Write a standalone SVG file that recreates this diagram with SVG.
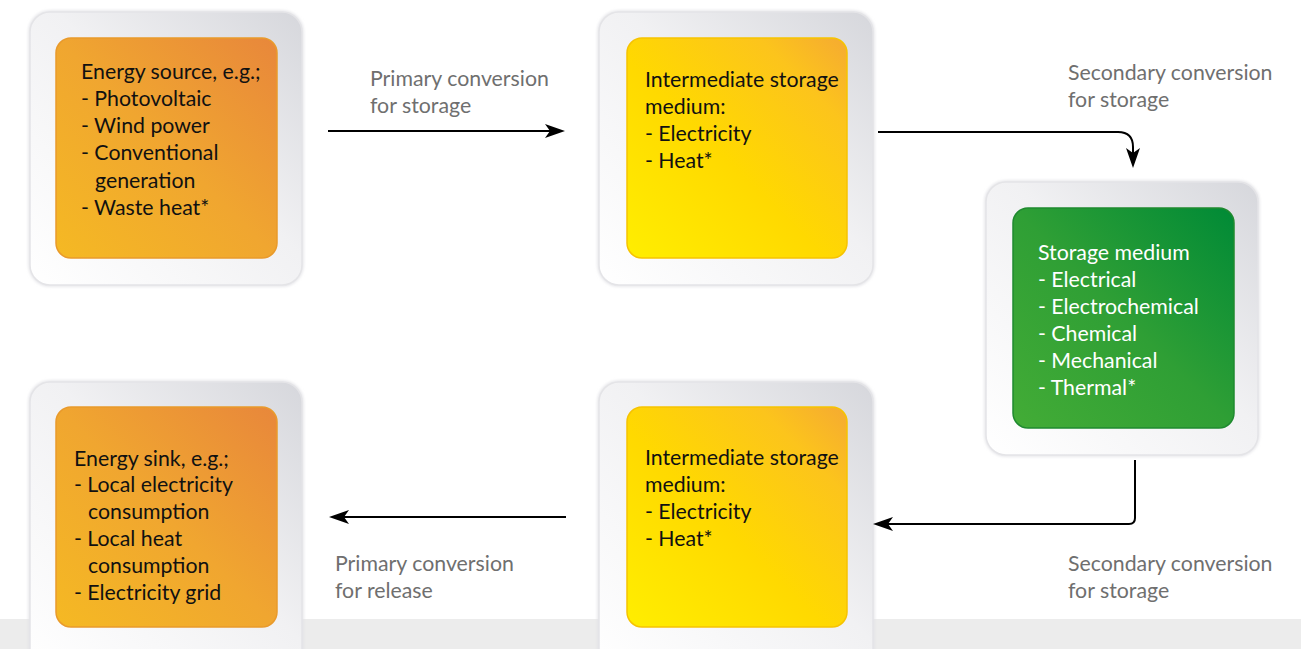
<svg xmlns="http://www.w3.org/2000/svg" width="1301" height="649" viewBox="0 0 1301 649">
  <defs>
    <linearGradient id="gFrame" x1="0" y1="1" x2="1" y2="0">
      <stop offset="0" stop-color="#ffffff"/>
      <stop offset="0.55" stop-color="#f1f1f3"/>
      <stop offset="1" stop-color="#d6d7dc"/>
    </linearGradient>
    <linearGradient id="gOrange" x1="0" y1="1" x2="1" y2="0">
      <stop offset="0" stop-color="#f5b923"/>
      <stop offset="0.5" stop-color="#f0a630"/>
      <stop offset="1" stop-color="#e8873b"/>
    </linearGradient>
    <linearGradient id="gYellow" x1="0" y1="1" x2="1" y2="0">
      <stop offset="0" stop-color="#ffee00"/>
      <stop offset="0.45" stop-color="#ffd900"/>
      <stop offset="0.8" stop-color="#fcc41c"/>
      <stop offset="1" stop-color="#f5aa32"/>
    </linearGradient>
    <linearGradient id="gGreen" x1="0" y1="1" x2="1" y2="0">
      <stop offset="0" stop-color="#43ac36"/>
      <stop offset="0.5" stop-color="#2f9f35"/>
      <stop offset="1" stop-color="#008a36"/>
    </linearGradient>
    <filter id="soft" x="-10%" y="-10%" width="120%" height="120%">
      <feGaussianBlur stdDeviation="1.5"/>
    </filter>
    <marker id="arrow" viewBox="0 0 20 14" refX="15" refY="7" markerWidth="20" markerHeight="14" markerUnits="userSpaceOnUse" orient="auto">
      <path d="M0,0 L20,7 L0,14 L5,7 Z" fill="#000"/>
    </marker>
  </defs>
  <style>
    .frame { fill: url(#gFrame); stroke: #e4e4e7; stroke-width: 1.5; }
    .halo { fill: none; stroke: #e2e2e6; stroke-width: 3; filter: url(#soft); }
    .orange { fill: url(#gOrange); stroke: #e99a2b; stroke-width: 1.5; }
    .yellow { fill: url(#gYellow); stroke: #f6c300; stroke-width: 1.5; }
    .green { fill: url(#gGreen); stroke: #1f8a2f; stroke-width: 1.5; }
    .txt { font-family: Lato, "Liberation Sans", sans-serif; font-size: 21.3px; fill: #111; }
    .wtxt { font-family: Lato, "Liberation Sans", sans-serif; font-size: 21.3px; fill: #fff; }
    .lbl { font-family: Lato, "Liberation Sans", sans-serif; font-size: 21.3px; fill: #6f6f6f; }
    .conn { fill: none; stroke: #000; stroke-width: 2; marker-end: url(#arrow); }
  </style>

  <rect width="1301" height="649" fill="#ffffff"/>
  <!-- floor band -->
  <rect x="0" y="619" width="1301" height="30" fill="#ececec"/>

  <!-- Energy source -->
  <g id="node-source">
    <rect class="halo" x="30" y="12" width="272" height="273" rx="20"/>
    <rect class="frame" x="30" y="12" width="272" height="273" rx="20"/>
    <rect class="orange" x="56" y="38" width="221" height="220" rx="15"/>
    <text class="txt">
      <tspan x="81" y="79">Energy source, e.g.;</tspan>
      <tspan x="81" y="106">- Photovoltaic</tspan>
      <tspan x="81" y="133">- Wind power</tspan>
      <tspan x="81" y="160">- Conventional</tspan>
      <tspan x="95" y="188">generation</tspan>
      <tspan x="81" y="215">- Waste heat*</tspan>
    </text>
  </g>

  <!-- Intermediate storage (charging) -->
  <g id="node-intermediate-top">
    <rect class="halo" x="599" y="12" width="274" height="273" rx="20"/>
    <rect class="frame" x="599" y="12" width="274" height="273" rx="20"/>
    <rect class="yellow" x="627" y="38" width="220" height="220" rx="15"/>
    <text class="txt">
      <tspan x="645" y="87">Intermediate storage</tspan>
      <tspan x="645" y="114">medium:</tspan>
      <tspan x="645" y="141">- Electricity</tspan>
      <tspan x="645" y="168">- Heat*</tspan>
    </text>
  </g>

  <!-- Storage medium -->
  <g id="node-storage">
    <rect class="halo" x="986" y="182" width="272" height="273" rx="20"/>
    <rect class="frame" x="986" y="182" width="272" height="273" rx="20"/>
    <rect class="green" x="1013" y="208" width="221" height="220" rx="15"/>
    <text class="wtxt">
      <tspan x="1038" y="260">Storage medium</tspan>
      <tspan x="1038" y="287">- Electrical</tspan>
      <tspan x="1038" y="314">- Electrochemical</tspan>
      <tspan x="1038" y="341">- Chemical</tspan>
      <tspan x="1038" y="368">- Mechanical</tspan>
      <tspan x="1038" y="395">- Thermal*</tspan>
    </text>
  </g>

  <!-- Intermediate storage (discharging) -->
  <g id="node-intermediate-bottom">
    <rect class="halo" x="599" y="382" width="274" height="290" rx="20"/>
    <rect class="frame" x="599" y="382" width="274" height="290" rx="20"/>
    <rect class="yellow" x="627" y="407" width="220" height="220" rx="15"/>
    <text class="txt">
      <tspan x="645" y="465">Intermediate storage</tspan>
      <tspan x="645" y="492">medium:</tspan>
      <tspan x="645" y="519">- Electricity</tspan>
      <tspan x="645" y="546">- Heat*</tspan>
    </text>
  </g>

  <!-- Energy sink -->
  <g id="node-sink">
    <rect class="halo" x="30" y="382" width="272" height="290" rx="20"/>
    <rect class="frame" x="30" y="382" width="272" height="290" rx="20"/>
    <rect class="orange" x="56" y="407" width="221" height="220" rx="15"/>
    <text class="txt">
      <tspan x="74" y="466">Energy sink, e.g.;</tspan>
      <tspan x="74" y="492">- Local electricity</tspan>
      <tspan x="88" y="519">consumption</tspan>
      <tspan x="74" y="546">- Local heat</tspan>
      <tspan x="88" y="573">consumption</tspan>
      <tspan x="74" y="600">- Electricity grid</tspan>
    </text>
  </g>

  <!-- Connectors -->
  <g id="connectors">
    <path class="conn" d="M328,131 H560"/>
    <path class="conn" d="M878,132 H1118 Q1133,132 1133,147 V163"/>
    <path class="conn" d="M1135,460 V518 Q1135,524 1129,524 H878"/>
    <path class="conn" d="M566,517 H334"/>
  </g>

  <!-- Connector labels -->
  <g id="labels">
    <text class="lbl"><tspan x="370" y="86">Primary conversion</tspan><tspan x="370" y="113">for storage</tspan></text>
    <text class="lbl"><tspan x="1068" y="80">Secondary conversion</tspan><tspan x="1068" y="107">for storage</tspan></text>
    <text class="lbl"><tspan x="335" y="571">Primary conversion</tspan><tspan x="335" y="598">for release</tspan></text>
    <text class="lbl"><tspan x="1068" y="571">Secondary conversion</tspan><tspan x="1068" y="598">for storage</tspan></text>
  </g>
</svg>
